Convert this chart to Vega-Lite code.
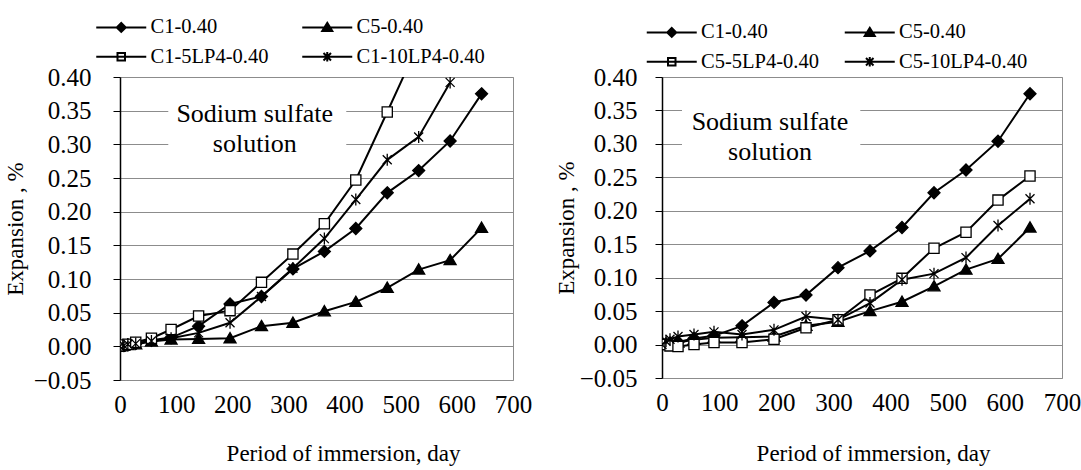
{
  "$schema": "https://vega.github.io/schema/vega-lite/v6.json",
  "background": "white",
  "padding": {"left": 3, "top": 16, "right": 3, "bottom": 2},
  "config": {
    "font": "Liberation Serif, Times New Roman, DejaVu Serif, serif",
    "view": {"stroke": "#8c8c8c", "strokeWidth": 1},
    "legend": {"labelFont": "Liberation Serif, Times New Roman, DejaVu Serif, serif"}
  },
  "datasets": {
    "left": [
      {"s": "C1-0.40", "day": 0, "exp": 0}, {"s": "C1-0.40", "day": 7, "exp": 0.001}, {"s": "C1-0.40", "day": 14, "exp": 0.002}, {"s": "C1-0.40", "day": 28, "exp": 0.004}, {"s": "C1-0.40", "day": 56, "exp": 0.009}, {"s": "C1-0.40", "day": 91, "exp": 0.013}, {"s": "C1-0.40", "day": 140, "exp": 0.03}, {"s": "C1-0.40", "day": 196, "exp": 0.063}, {"s": "C1-0.40", "day": 252, "exp": 0.074}, {"s": "C1-0.40", "day": 308, "exp": 0.115}, {"s": "C1-0.40", "day": 364, "exp": 0.141}, {"s": "C1-0.40", "day": 420, "exp": 0.175}, {"s": "C1-0.40", "day": 476, "exp": 0.228}, {"s": "C1-0.40", "day": 532, "exp": 0.261}, {"s": "C1-0.40", "day": 588, "exp": 0.305}, {"s": "C1-0.40", "day": 644, "exp": 0.375},
      {"s": "C5-0.40", "day": 0, "exp": 0}, {"s": "C5-0.40", "day": 7, "exp": 0.001}, {"s": "C5-0.40", "day": 14, "exp": 0.002}, {"s": "C5-0.40", "day": 28, "exp": 0.003}, {"s": "C5-0.40", "day": 56, "exp": 0.007}, {"s": "C5-0.40", "day": 91, "exp": 0.01}, {"s": "C5-0.40", "day": 140, "exp": 0.011}, {"s": "C5-0.40", "day": 196, "exp": 0.012}, {"s": "C5-0.40", "day": 252, "exp": 0.03}, {"s": "C5-0.40", "day": 308, "exp": 0.035}, {"s": "C5-0.40", "day": 364, "exp": 0.052}, {"s": "C5-0.40", "day": 420, "exp": 0.066}, {"s": "C5-0.40", "day": 476, "exp": 0.087}, {"s": "C5-0.40", "day": 532, "exp": 0.114}, {"s": "C5-0.40", "day": 588, "exp": 0.128}, {"s": "C5-0.40", "day": 644, "exp": 0.176},
      {"s": "C1-5LP4-0.40", "day": 0, "exp": 0}, {"s": "C1-5LP4-0.40", "day": 7, "exp": 0.002}, {"s": "C1-5LP4-0.40", "day": 14, "exp": 0.003}, {"s": "C1-5LP4-0.40", "day": 28, "exp": 0.006}, {"s": "C1-5LP4-0.40", "day": 56, "exp": 0.012}, {"s": "C1-5LP4-0.40", "day": 91, "exp": 0.025}, {"s": "C1-5LP4-0.40", "day": 140, "exp": 0.045}, {"s": "C1-5LP4-0.40", "day": 196, "exp": 0.053}, {"s": "C1-5LP4-0.40", "day": 252, "exp": 0.095}, {"s": "C1-5LP4-0.40", "day": 308, "exp": 0.137}, {"s": "C1-5LP4-0.40", "day": 364, "exp": 0.182}, {"s": "C1-5LP4-0.40", "day": 420, "exp": 0.247}, {"s": "C1-5LP4-0.40", "day": 476, "exp": 0.348}, {"s": "C1-5LP4-0.40", "day": 532, "exp": 0.45},
      {"s": "C1-10LP4-0.40", "day": 0, "exp": 0}, {"s": "C1-10LP4-0.40", "day": 7, "exp": 0.001}, {"s": "C1-10LP4-0.40", "day": 14, "exp": 0.003}, {"s": "C1-10LP4-0.40", "day": 28, "exp": 0.004}, {"s": "C1-10LP4-0.40", "day": 56, "exp": 0.008}, {"s": "C1-10LP4-0.40", "day": 91, "exp": 0.012}, {"s": "C1-10LP4-0.40", "day": 140, "exp": 0.02}, {"s": "C1-10LP4-0.40", "day": 196, "exp": 0.035}, {"s": "C1-10LP4-0.40", "day": 252, "exp": 0.074}, {"s": "C1-10LP4-0.40", "day": 308, "exp": 0.116}, {"s": "C1-10LP4-0.40", "day": 364, "exp": 0.16}, {"s": "C1-10LP4-0.40", "day": 420, "exp": 0.218}, {"s": "C1-10LP4-0.40", "day": 476, "exp": 0.277}, {"s": "C1-10LP4-0.40", "day": 532, "exp": 0.311}, {"s": "C1-10LP4-0.40", "day": 588, "exp": 0.392}
    ],
    "right": [
      {"s": "C1-0.40", "day": 0, "exp": 0}, {"s": "C1-0.40", "day": 7, "exp": 0.001}, {"s": "C1-0.40", "day": 14, "exp": 0.002}, {"s": "C1-0.40", "day": 28, "exp": 0.004}, {"s": "C1-0.40", "day": 56, "exp": 0.009}, {"s": "C1-0.40", "day": 91, "exp": 0.013}, {"s": "C1-0.40", "day": 140, "exp": 0.028}, {"s": "C1-0.40", "day": 196, "exp": 0.063}, {"s": "C1-0.40", "day": 252, "exp": 0.074}, {"s": "C1-0.40", "day": 308, "exp": 0.115}, {"s": "C1-0.40", "day": 364, "exp": 0.14}, {"s": "C1-0.40", "day": 420, "exp": 0.175}, {"s": "C1-0.40", "day": 476, "exp": 0.227}, {"s": "C1-0.40", "day": 532, "exp": 0.261}, {"s": "C1-0.40", "day": 588, "exp": 0.304}, {"s": "C1-0.40", "day": 644, "exp": 0.375},
      {"s": "C5-0.40", "day": 0, "exp": 0}, {"s": "C5-0.40", "day": 7, "exp": 0.001}, {"s": "C5-0.40", "day": 14, "exp": 0.002}, {"s": "C5-0.40", "day": 28, "exp": 0.003}, {"s": "C5-0.40", "day": 56, "exp": 0.007}, {"s": "C5-0.40", "day": 91, "exp": 0.01}, {"s": "C5-0.40", "day": 140, "exp": 0.011}, {"s": "C5-0.40", "day": 196, "exp": 0.012}, {"s": "C5-0.40", "day": 252, "exp": 0.028}, {"s": "C5-0.40", "day": 308, "exp": 0.034}, {"s": "C5-0.40", "day": 364, "exp": 0.05}, {"s": "C5-0.40", "day": 420, "exp": 0.064}, {"s": "C5-0.40", "day": 476, "exp": 0.087}, {"s": "C5-0.40", "day": 532, "exp": 0.112}, {"s": "C5-0.40", "day": 588, "exp": 0.128}, {"s": "C5-0.40", "day": 644, "exp": 0.175},
      {"s": "C5-5LP4-0.40", "day": 0, "exp": 0}, {"s": "C5-5LP4-0.40", "day": 7, "exp": 0}, {"s": "C5-5LP4-0.40", "day": 14, "exp": -0.002}, {"s": "C5-5LP4-0.40", "day": 28, "exp": -0.003}, {"s": "C5-5LP4-0.40", "day": 56, "exp": 0}, {"s": "C5-5LP4-0.40", "day": 91, "exp": 0.003}, {"s": "C5-5LP4-0.40", "day": 140, "exp": 0.003}, {"s": "C5-5LP4-0.40", "day": 196, "exp": 0.008}, {"s": "C5-5LP4-0.40", "day": 252, "exp": 0.025}, {"s": "C5-5LP4-0.40", "day": 308, "exp": 0.037}, {"s": "C5-5LP4-0.40", "day": 364, "exp": 0.074}, {"s": "C5-5LP4-0.40", "day": 420, "exp": 0.099}, {"s": "C5-5LP4-0.40", "day": 476, "exp": 0.144}, {"s": "C5-5LP4-0.40", "day": 532, "exp": 0.168}, {"s": "C5-5LP4-0.40", "day": 588, "exp": 0.216}, {"s": "C5-5LP4-0.40", "day": 644, "exp": 0.252},
      {"s": "C5-10LP4-0.40", "day": 0, "exp": 0}, {"s": "C5-10LP4-0.40", "day": 7, "exp": 0.005}, {"s": "C5-10LP4-0.40", "day": 14, "exp": 0.008}, {"s": "C5-10LP4-0.40", "day": 28, "exp": 0.012}, {"s": "C5-10LP4-0.40", "day": 56, "exp": 0.015}, {"s": "C5-10LP4-0.40", "day": 91, "exp": 0.019}, {"s": "C5-10LP4-0.40", "day": 140, "exp": 0.015}, {"s": "C5-10LP4-0.40", "day": 196, "exp": 0.022}, {"s": "C5-10LP4-0.40", "day": 252, "exp": 0.042}, {"s": "C5-10LP4-0.40", "day": 308, "exp": 0.037}, {"s": "C5-10LP4-0.40", "day": 364, "exp": 0.062}, {"s": "C5-10LP4-0.40", "day": 420, "exp": 0.097}, {"s": "C5-10LP4-0.40", "day": 476, "exp": 0.106}, {"s": "C5-10LP4-0.40", "day": 532, "exp": 0.13}, {"s": "C5-10LP4-0.40", "day": 588, "exp": 0.178}, {"s": "C5-10LP4-0.40", "day": 644, "exp": 0.218}
    ]
  },
  "spacing": 21,
  "resolve": {"scale": {"shape": "independent", "fill": "independent", "stroke": "independent", "x": "independent", "y": "independent"}, "legend": {"shape": "independent", "fill": "independent", "stroke": "independent"}},
  "hconcat": [
    {
      "width": 393, "height": 303,
      "layer": [
        {
          "data": {"values": [{"box": "annotation"}]},
          "mark": {"type": "rect", "fill": "white"},
          "encoding": {
            "x": {"datum": 86, "type": "quantitative", "scale": {"domain": [0, 700], "nice": false}, "axis": {"title": "Period of immersion, day", "values": [0, 100, 200, 300, 400, 500, 600, 700], "grid": false, "ticks": false, "domain": false, "labelFlush": false, "labelOverlap": false, "labelFont": "Liberation Serif, Times New Roman, DejaVu Serif, serif", "titleFont": "Liberation Serif, Times New Roman, DejaVu Serif, serif", "labelColor": "black", "titleColor": "black", "titleFontWeight": "normal", "labelFontSize": 25, "labelPadding": 12, "titleFontSize": 23, "titlePadding": 25, "titleX": 223}},
            "x2": {"datum": 403},
            "y": {"datum": 0.275, "type": "quantitative", "scale": {"domain": [-0.05, 0.4], "nice": false, "zero": false}, "axis": {"title": "Expansion , %", "values": [-0.05, 0, 0.05, 0.1, 0.15, 0.2, 0.25, 0.3, 0.35, 0.4], "format": ".2f", "grid": true, "gridColor": "#8c8c8c", "domainColor": "black", "domainWidth": 1.5, "tickColor": "black", "tickSize": 7, "labelFlush": false, "labelOverlap": false, "labelFont": "Liberation Serif, Times New Roman, DejaVu Serif, serif", "titleFont": "Liberation Serif, Times New Roman, DejaVu Serif, serif", "labelColor": "black", "titleColor": "black", "titleFontWeight": "normal", "labelFontSize": 25, "labelPadding": 22, "titleFontSize": 23, "titlePadding": 6}},
            "y2": {"datum": 0.37}
          }
        },
        {
          "data": {"values": [{"label": "annotation"}]},
          "mark": {"type": "text", "text": ["Sodium sulfate", "solution"], "font": "Liberation Serif, Times New Roman, DejaVu Serif, serif", "fontSize": 26, "lineHeight": 30, "align": "center", "baseline": "middle", "color": "black"},
          "encoding": {
            "x": {"datum": 240, "type": "quantitative", "scale": {"domain": [0, 700], "nice": false}, "axis": {"title": "Period of immersion, day", "values": [0, 100, 200, 300, 400, 500, 600, 700], "grid": false, "ticks": false, "domain": false, "labelFlush": false, "labelOverlap": false, "labelFont": "Liberation Serif, Times New Roman, DejaVu Serif, serif", "titleFont": "Liberation Serif, Times New Roman, DejaVu Serif, serif", "labelColor": "black", "titleColor": "black", "titleFontWeight": "normal", "labelFontSize": 25, "labelPadding": 12, "titleFontSize": 23, "titlePadding": 25, "titleX": 223}},
            "y": {"datum": 0.345, "type": "quantitative", "scale": {"domain": [-0.05, 0.4], "nice": false, "zero": false}, "axis": {"title": "Expansion , %", "values": [-0.05, 0, 0.05, 0.1, 0.15, 0.2, 0.25, 0.3, 0.35, 0.4], "format": ".2f", "grid": true, "gridColor": "#8c8c8c", "domainColor": "black", "domainWidth": 1.5, "tickColor": "black", "tickSize": 7, "labelFlush": false, "labelOverlap": false, "labelFont": "Liberation Serif, Times New Roman, DejaVu Serif, serif", "titleFont": "Liberation Serif, Times New Roman, DejaVu Serif, serif", "labelColor": "black", "titleColor": "black", "titleFontWeight": "normal", "labelFontSize": 25, "labelPadding": 22, "titleFontSize": 23, "titlePadding": 6}}
          }
        },
        {
          "data": {"name": "left"},
          "mark": {"type": "line", "color": "black", "strokeWidth": 2, "clip": true},
          "encoding": {
            "x": {"field": "day", "type": "quantitative", "scale": {"domain": [0, 700], "nice": false}, "axis": {"title": "Period of immersion, day", "values": [0, 100, 200, 300, 400, 500, 600, 700], "grid": false, "ticks": false, "domain": false, "labelFlush": false, "labelOverlap": false, "labelFont": "Liberation Serif, Times New Roman, DejaVu Serif, serif", "titleFont": "Liberation Serif, Times New Roman, DejaVu Serif, serif", "labelColor": "black", "titleColor": "black", "titleFontWeight": "normal", "labelFontSize": 25, "labelPadding": 12, "titleFontSize": 23, "titlePadding": 25, "titleX": 223}},
            "y": {"field": "exp", "type": "quantitative", "scale": {"domain": [-0.05, 0.4], "nice": false, "zero": false}, "axis": {"title": "Expansion , %", "values": [-0.05, 0, 0.05, 0.1, 0.15, 0.2, 0.25, 0.3, 0.35, 0.4], "format": ".2f", "grid": true, "gridColor": "#8c8c8c", "domainColor": "black", "domainWidth": 1.5, "tickColor": "black", "tickSize": 7, "labelFlush": false, "labelOverlap": false, "labelFont": "Liberation Serif, Times New Roman, DejaVu Serif, serif", "titleFont": "Liberation Serif, Times New Roman, DejaVu Serif, serif", "labelColor": "black", "titleColor": "black", "titleFontWeight": "normal", "labelFontSize": 25, "labelPadding": 22, "titleFontSize": 23, "titlePadding": 6}},
            "detail": {"field": "s"}
          }
        },
        {
          "data": {"name": "left"},
          "transform": [{"filter": {"field": "s", "equal": "C1-0.40"}}],
          "mark": {"type": "point", "shape": "M0,-1L1,0L0,1L-1,0Z", "filled": true, "fill": "black", "stroke": "black", "strokeWidth": 1.3, "size": 144, "opacity": 1, "clip": true},
          "encoding": {
            "x": {"field": "day", "type": "quantitative", "scale": {"domain": [0, 700], "nice": false}, "axis": {"title": "Period of immersion, day", "values": [0, 100, 200, 300, 400, 500, 600, 700], "grid": false, "ticks": false, "domain": false, "labelFlush": false, "labelOverlap": false, "labelFont": "Liberation Serif, Times New Roman, DejaVu Serif, serif", "titleFont": "Liberation Serif, Times New Roman, DejaVu Serif, serif", "labelColor": "black", "titleColor": "black", "titleFontWeight": "normal", "labelFontSize": 25, "labelPadding": 12, "titleFontSize": 23, "titlePadding": 25, "titleX": 223}},
            "y": {"field": "exp", "type": "quantitative", "scale": {"domain": [-0.05, 0.4], "nice": false, "zero": false}, "axis": {"title": "Expansion , %", "values": [-0.05, 0, 0.05, 0.1, 0.15, 0.2, 0.25, 0.3, 0.35, 0.4], "format": ".2f", "grid": true, "gridColor": "#8c8c8c", "domainColor": "black", "domainWidth": 1.5, "tickColor": "black", "tickSize": 7, "labelFlush": false, "labelOverlap": false, "labelFont": "Liberation Serif, Times New Roman, DejaVu Serif, serif", "titleFont": "Liberation Serif, Times New Roman, DejaVu Serif, serif", "labelColor": "black", "titleColor": "black", "titleFontWeight": "normal", "labelFontSize": 25, "labelPadding": 22, "titleFontSize": 23, "titlePadding": 6}}
          }
        },
        {
          "data": {"name": "left"},
          "transform": [{"filter": {"field": "s", "equal": "C5-0.40"}}],
          "mark": {"type": "point", "shape": "M0,-0.95L1,0.75L-1,0.75Z", "filled": true, "fill": "black", "stroke": "black", "strokeWidth": 1.3, "size": 144, "opacity": 1, "clip": true},
          "encoding": {
            "x": {"field": "day", "type": "quantitative", "scale": {"domain": [0, 700], "nice": false}, "axis": {"title": "Period of immersion, day", "values": [0, 100, 200, 300, 400, 500, 600, 700], "grid": false, "ticks": false, "domain": false, "labelFlush": false, "labelOverlap": false, "labelFont": "Liberation Serif, Times New Roman, DejaVu Serif, serif", "titleFont": "Liberation Serif, Times New Roman, DejaVu Serif, serif", "labelColor": "black", "titleColor": "black", "titleFontWeight": "normal", "labelFontSize": 25, "labelPadding": 12, "titleFontSize": 23, "titlePadding": 25, "titleX": 223}},
            "y": {"field": "exp", "type": "quantitative", "scale": {"domain": [-0.05, 0.4], "nice": false, "zero": false}, "axis": {"title": "Expansion , %", "values": [-0.05, 0, 0.05, 0.1, 0.15, 0.2, 0.25, 0.3, 0.35, 0.4], "format": ".2f", "grid": true, "gridColor": "#8c8c8c", "domainColor": "black", "domainWidth": 1.5, "tickColor": "black", "tickSize": 7, "labelFlush": false, "labelOverlap": false, "labelFont": "Liberation Serif, Times New Roman, DejaVu Serif, serif", "titleFont": "Liberation Serif, Times New Roman, DejaVu Serif, serif", "labelColor": "black", "titleColor": "black", "titleFontWeight": "normal", "labelFontSize": 25, "labelPadding": 22, "titleFontSize": 23, "titlePadding": 6}}
          }
        },
        {
          "data": {"name": "left"},
          "transform": [{"filter": {"field": "s", "equal": "C1-5LP4-0.40"}}],
          "mark": {"type": "point", "shape": "M-0.85,-0.85H0.85V0.85H-0.85Z", "filled": true, "fill": "white", "stroke": "black", "strokeWidth": 1.3, "size": 144, "opacity": 1, "clip": true},
          "encoding": {
            "x": {"field": "day", "type": "quantitative", "scale": {"domain": [0, 700], "nice": false}, "axis": {"title": "Period of immersion, day", "values": [0, 100, 200, 300, 400, 500, 600, 700], "grid": false, "ticks": false, "domain": false, "labelFlush": false, "labelOverlap": false, "labelFont": "Liberation Serif, Times New Roman, DejaVu Serif, serif", "titleFont": "Liberation Serif, Times New Roman, DejaVu Serif, serif", "labelColor": "black", "titleColor": "black", "titleFontWeight": "normal", "labelFontSize": 25, "labelPadding": 12, "titleFontSize": 23, "titlePadding": 25, "titleX": 223}},
            "y": {"field": "exp", "type": "quantitative", "scale": {"domain": [-0.05, 0.4], "nice": false, "zero": false}, "axis": {"title": "Expansion , %", "values": [-0.05, 0, 0.05, 0.1, 0.15, 0.2, 0.25, 0.3, 0.35, 0.4], "format": ".2f", "grid": true, "gridColor": "#8c8c8c", "domainColor": "black", "domainWidth": 1.5, "tickColor": "black", "tickSize": 7, "labelFlush": false, "labelOverlap": false, "labelFont": "Liberation Serif, Times New Roman, DejaVu Serif, serif", "titleFont": "Liberation Serif, Times New Roman, DejaVu Serif, serif", "labelColor": "black", "titleColor": "black", "titleFontWeight": "normal", "labelFontSize": 25, "labelPadding": 22, "titleFontSize": 23, "titlePadding": 6}}
          }
        },
        {
          "data": {"name": "left"},
          "transform": [{"filter": {"field": "s", "equal": "C1-10LP4-0.40"}}],
          "mark": {"type": "point", "shape": "M-0.75,-0.75L0.75,0.75M0.75,-0.75L-0.75,0.75M0,-1V1", "filled": false, "stroke": "black", "strokeWidth": 1.3, "size": 144, "opacity": 1, "clip": true},
          "encoding": {
            "x": {"field": "day", "type": "quantitative", "scale": {"domain": [0, 700], "nice": false}, "axis": {"title": "Period of immersion, day", "values": [0, 100, 200, 300, 400, 500, 600, 700], "grid": false, "ticks": false, "domain": false, "labelFlush": false, "labelOverlap": false, "labelFont": "Liberation Serif, Times New Roman, DejaVu Serif, serif", "titleFont": "Liberation Serif, Times New Roman, DejaVu Serif, serif", "labelColor": "black", "titleColor": "black", "titleFontWeight": "normal", "labelFontSize": 25, "labelPadding": 12, "titleFontSize": 23, "titlePadding": 25, "titleX": 223}},
            "y": {"field": "exp", "type": "quantitative", "scale": {"domain": [-0.05, 0.4], "nice": false, "zero": false}, "axis": {"title": "Expansion , %", "values": [-0.05, 0, 0.05, 0.1, 0.15, 0.2, 0.25, 0.3, 0.35, 0.4], "format": ".2f", "grid": true, "gridColor": "#8c8c8c", "domainColor": "black", "domainWidth": 1.5, "tickColor": "black", "tickSize": 7, "labelFlush": false, "labelOverlap": false, "labelFont": "Liberation Serif, Times New Roman, DejaVu Serif, serif", "titleFont": "Liberation Serif, Times New Roman, DejaVu Serif, serif", "labelColor": "black", "titleColor": "black", "titleFontWeight": "normal", "labelFontSize": 25, "labelPadding": 22, "titleFontSize": 23, "titlePadding": 6}}
          }
        },
        {
          "data": {"name": "left"},
          "transform": [{"filter": "datum.day < 0"}],
          "mark": {"type": "point", "filled": true, "strokeWidth": 2, "opacity": 1},
          "encoding": {
            "x": {"field": "day", "type": "quantitative", "scale": {"domain": [0, 700], "nice": false}, "axis": {"title": "Period of immersion, day", "values": [0, 100, 200, 300, 400, 500, 600, 700], "grid": false, "ticks": false, "domain": false, "labelFlush": false, "labelOverlap": false, "labelFont": "Liberation Serif, Times New Roman, DejaVu Serif, serif", "titleFont": "Liberation Serif, Times New Roman, DejaVu Serif, serif", "labelColor": "black", "titleColor": "black", "titleFontWeight": "normal", "labelFontSize": 25, "labelPadding": 12, "titleFontSize": 23, "titlePadding": 25, "titleX": 223}},
            "y": {"field": "exp", "type": "quantitative", "scale": {"domain": [-0.05, 0.4], "nice": false, "zero": false}, "axis": {"title": "Expansion , %", "values": [-0.05, 0, 0.05, 0.1, 0.15, 0.2, 0.25, 0.3, 0.35, 0.4], "format": ".2f", "grid": true, "gridColor": "#8c8c8c", "domainColor": "black", "domainWidth": 1.5, "tickColor": "black", "tickSize": 7, "labelFlush": false, "labelOverlap": false, "labelFont": "Liberation Serif, Times New Roman, DejaVu Serif, serif", "titleFont": "Liberation Serif, Times New Roman, DejaVu Serif, serif", "labelColor": "black", "titleColor": "black", "titleFontWeight": "normal", "labelFontSize": 25, "labelPadding": 22, "titleFontSize": 23, "titlePadding": 6}},
            "shape": {"field": "s", "type": "nominal",
              "scale": {"domain": ["C1-0.40", "C5-0.40", "C1-5LP4-0.40", "C1-10LP4-0.40"], "range": ["M-5,0H5M0,-0.9L0.9,0L0,0.9L-0.9,0Z", "M-5,0H5M0,-0.9L1,0.7L-1,0.7Z", "M-5,0H5M-0.75,-0.75H0.75V0.75H-0.75Z", "M-5,0H5M-0.75,-0.75L0.75,0.75M0.75,-0.75L-0.75,0.75M0,-0.95V0.95"]},
              "legend": {"orient": "none", "direction": "horizontal", "legendX": -9, "legendY": -60, "columns": 2, "title": null, "symbolSize": 100, "symbolStrokeWidth": 2, "symbolOpacity": 1, "labelOffset": 19, "columnPadding": 29, "rowPadding": 8.5, "labelFontSize": 20.5, "labelColor": "black"}},
            "fill": {"field": "s", "type": "nominal",
              "scale": {"domain": ["C1-0.40", "C5-0.40", "C1-5LP4-0.40", "C1-10LP4-0.40"], "range": ["black", "black", "white", "white"]},
              "legend": {"orient": "none", "direction": "horizontal", "legendX": -9, "legendY": -60, "columns": 2, "title": null, "symbolSize": 100, "symbolStrokeWidth": 2, "symbolOpacity": 1, "labelOffset": 19, "columnPadding": 29, "rowPadding": 8.5, "labelFontSize": 20.5, "labelColor": "black"}},
            "stroke": {"field": "s", "type": "nominal",
              "scale": {"domain": ["C1-0.40", "C5-0.40", "C1-5LP4-0.40", "C1-10LP4-0.40"], "range": ["black", "black", "black", "black"]},
              "legend": {"orient": "none", "direction": "horizontal", "legendX": -9, "legendY": -60, "columns": 2, "title": null, "symbolSize": 100, "symbolStrokeWidth": 2, "symbolOpacity": 1, "labelOffset": 19, "columnPadding": 29, "rowPadding": 8.5, "labelFontSize": 20.5, "labelColor": "black"}}
          }
        }
      ]
    },
    {
      "width": 400, "height": 301,
      "layer": [
        {
          "data": {"values": [{"box": "annotation"}]},
          "mark": {"type": "rect", "fill": "white"},
          "encoding": {
            "x": {"datum": 35, "type": "quantitative", "scale": {"domain": [0, 700], "nice": false}, "axis": {"title": "Period of immersion, day", "values": [0, 100, 200, 300, 400, 500, 600, 700], "grid": false, "ticks": false, "domain": false, "labelFlush": false, "labelOverlap": false, "labelFont": "Liberation Serif, Times New Roman, DejaVu Serif, serif", "titleFont": "Liberation Serif, Times New Roman, DejaVu Serif, serif", "labelColor": "black", "titleColor": "black", "titleFontWeight": "normal", "labelFontSize": 25, "labelPadding": 12, "titleFontSize": 23, "titlePadding": 27, "titleX": 211}},
            "x2": {"datum": 347},
            "y": {"datum": 0.27, "type": "quantitative", "scale": {"domain": [-0.05, 0.4], "nice": false, "zero": false}, "axis": {"title": "Expansion , %", "values": [-0.05, 0, 0.05, 0.1, 0.15, 0.2, 0.25, 0.3, 0.35, 0.4], "format": ".2f", "grid": true, "gridColor": "#8c8c8c", "domainColor": "black", "domainWidth": 1.5, "tickColor": "black", "tickSize": 7, "labelFlush": false, "labelOverlap": false, "labelFont": "Liberation Serif, Times New Roman, DejaVu Serif, serif", "titleFont": "Liberation Serif, Times New Roman, DejaVu Serif, serif", "labelColor": "black", "titleColor": "black", "titleFontWeight": "normal", "labelFontSize": 25, "labelPadding": 18, "titleFontSize": 23, "titlePadding": 1}},
            "y2": {"datum": 0.37}
          }
        },
        {
          "data": {"values": [{"label": "annotation"}]},
          "mark": {"type": "text", "text": ["Sodium sulfate", "solution"], "font": "Liberation Serif, Times New Roman, DejaVu Serif, serif", "fontSize": 26, "lineHeight": 30, "align": "center", "baseline": "middle", "color": "black"},
          "encoding": {
            "x": {"datum": 189, "type": "quantitative", "scale": {"domain": [0, 700], "nice": false}, "axis": {"title": "Period of immersion, day", "values": [0, 100, 200, 300, 400, 500, 600, 700], "grid": false, "ticks": false, "domain": false, "labelFlush": false, "labelOverlap": false, "labelFont": "Liberation Serif, Times New Roman, DejaVu Serif, serif", "titleFont": "Liberation Serif, Times New Roman, DejaVu Serif, serif", "labelColor": "black", "titleColor": "black", "titleFontWeight": "normal", "labelFontSize": 25, "labelPadding": 12, "titleFontSize": 23, "titlePadding": 27, "titleX": 211}},
            "y": {"datum": 0.333, "type": "quantitative", "scale": {"domain": [-0.05, 0.4], "nice": false, "zero": false}, "axis": {"title": "Expansion , %", "values": [-0.05, 0, 0.05, 0.1, 0.15, 0.2, 0.25, 0.3, 0.35, 0.4], "format": ".2f", "grid": true, "gridColor": "#8c8c8c", "domainColor": "black", "domainWidth": 1.5, "tickColor": "black", "tickSize": 7, "labelFlush": false, "labelOverlap": false, "labelFont": "Liberation Serif, Times New Roman, DejaVu Serif, serif", "titleFont": "Liberation Serif, Times New Roman, DejaVu Serif, serif", "labelColor": "black", "titleColor": "black", "titleFontWeight": "normal", "labelFontSize": 25, "labelPadding": 18, "titleFontSize": 23, "titlePadding": 1}}
          }
        },
        {
          "data": {"name": "right"},
          "mark": {"type": "line", "color": "black", "strokeWidth": 2, "clip": true},
          "encoding": {
            "x": {"field": "day", "type": "quantitative", "scale": {"domain": [0, 700], "nice": false}, "axis": {"title": "Period of immersion, day", "values": [0, 100, 200, 300, 400, 500, 600, 700], "grid": false, "ticks": false, "domain": false, "labelFlush": false, "labelOverlap": false, "labelFont": "Liberation Serif, Times New Roman, DejaVu Serif, serif", "titleFont": "Liberation Serif, Times New Roman, DejaVu Serif, serif", "labelColor": "black", "titleColor": "black", "titleFontWeight": "normal", "labelFontSize": 25, "labelPadding": 12, "titleFontSize": 23, "titlePadding": 27, "titleX": 211}},
            "y": {"field": "exp", "type": "quantitative", "scale": {"domain": [-0.05, 0.4], "nice": false, "zero": false}, "axis": {"title": "Expansion , %", "values": [-0.05, 0, 0.05, 0.1, 0.15, 0.2, 0.25, 0.3, 0.35, 0.4], "format": ".2f", "grid": true, "gridColor": "#8c8c8c", "domainColor": "black", "domainWidth": 1.5, "tickColor": "black", "tickSize": 7, "labelFlush": false, "labelOverlap": false, "labelFont": "Liberation Serif, Times New Roman, DejaVu Serif, serif", "titleFont": "Liberation Serif, Times New Roman, DejaVu Serif, serif", "labelColor": "black", "titleColor": "black", "titleFontWeight": "normal", "labelFontSize": 25, "labelPadding": 18, "titleFontSize": 23, "titlePadding": 1}},
            "detail": {"field": "s"}
          }
        },
        {
          "data": {"name": "right"},
          "transform": [{"filter": {"field": "s", "equal": "C1-0.40"}}],
          "mark": {"type": "point", "shape": "M0,-1L1,0L0,1L-1,0Z", "filled": true, "fill": "black", "stroke": "black", "strokeWidth": 1.3, "size": 144, "opacity": 1, "clip": true},
          "encoding": {
            "x": {"field": "day", "type": "quantitative", "scale": {"domain": [0, 700], "nice": false}, "axis": {"title": "Period of immersion, day", "values": [0, 100, 200, 300, 400, 500, 600, 700], "grid": false, "ticks": false, "domain": false, "labelFlush": false, "labelOverlap": false, "labelFont": "Liberation Serif, Times New Roman, DejaVu Serif, serif", "titleFont": "Liberation Serif, Times New Roman, DejaVu Serif, serif", "labelColor": "black", "titleColor": "black", "titleFontWeight": "normal", "labelFontSize": 25, "labelPadding": 12, "titleFontSize": 23, "titlePadding": 27, "titleX": 211}},
            "y": {"field": "exp", "type": "quantitative", "scale": {"domain": [-0.05, 0.4], "nice": false, "zero": false}, "axis": {"title": "Expansion , %", "values": [-0.05, 0, 0.05, 0.1, 0.15, 0.2, 0.25, 0.3, 0.35, 0.4], "format": ".2f", "grid": true, "gridColor": "#8c8c8c", "domainColor": "black", "domainWidth": 1.5, "tickColor": "black", "tickSize": 7, "labelFlush": false, "labelOverlap": false, "labelFont": "Liberation Serif, Times New Roman, DejaVu Serif, serif", "titleFont": "Liberation Serif, Times New Roman, DejaVu Serif, serif", "labelColor": "black", "titleColor": "black", "titleFontWeight": "normal", "labelFontSize": 25, "labelPadding": 18, "titleFontSize": 23, "titlePadding": 1}}
          }
        },
        {
          "data": {"name": "right"},
          "transform": [{"filter": {"field": "s", "equal": "C5-0.40"}}],
          "mark": {"type": "point", "shape": "M0,-0.95L1,0.75L-1,0.75Z", "filled": true, "fill": "black", "stroke": "black", "strokeWidth": 1.3, "size": 144, "opacity": 1, "clip": true},
          "encoding": {
            "x": {"field": "day", "type": "quantitative", "scale": {"domain": [0, 700], "nice": false}, "axis": {"title": "Period of immersion, day", "values": [0, 100, 200, 300, 400, 500, 600, 700], "grid": false, "ticks": false, "domain": false, "labelFlush": false, "labelOverlap": false, "labelFont": "Liberation Serif, Times New Roman, DejaVu Serif, serif", "titleFont": "Liberation Serif, Times New Roman, DejaVu Serif, serif", "labelColor": "black", "titleColor": "black", "titleFontWeight": "normal", "labelFontSize": 25, "labelPadding": 12, "titleFontSize": 23, "titlePadding": 27, "titleX": 211}},
            "y": {"field": "exp", "type": "quantitative", "scale": {"domain": [-0.05, 0.4], "nice": false, "zero": false}, "axis": {"title": "Expansion , %", "values": [-0.05, 0, 0.05, 0.1, 0.15, 0.2, 0.25, 0.3, 0.35, 0.4], "format": ".2f", "grid": true, "gridColor": "#8c8c8c", "domainColor": "black", "domainWidth": 1.5, "tickColor": "black", "tickSize": 7, "labelFlush": false, "labelOverlap": false, "labelFont": "Liberation Serif, Times New Roman, DejaVu Serif, serif", "titleFont": "Liberation Serif, Times New Roman, DejaVu Serif, serif", "labelColor": "black", "titleColor": "black", "titleFontWeight": "normal", "labelFontSize": 25, "labelPadding": 18, "titleFontSize": 23, "titlePadding": 1}}
          }
        },
        {
          "data": {"name": "right"},
          "transform": [{"filter": {"field": "s", "equal": "C5-5LP4-0.40"}}],
          "mark": {"type": "point", "shape": "M-0.85,-0.85H0.85V0.85H-0.85Z", "filled": true, "fill": "white", "stroke": "black", "strokeWidth": 1.3, "size": 144, "opacity": 1, "clip": true},
          "encoding": {
            "x": {"field": "day", "type": "quantitative", "scale": {"domain": [0, 700], "nice": false}, "axis": {"title": "Period of immersion, day", "values": [0, 100, 200, 300, 400, 500, 600, 700], "grid": false, "ticks": false, "domain": false, "labelFlush": false, "labelOverlap": false, "labelFont": "Liberation Serif, Times New Roman, DejaVu Serif, serif", "titleFont": "Liberation Serif, Times New Roman, DejaVu Serif, serif", "labelColor": "black", "titleColor": "black", "titleFontWeight": "normal", "labelFontSize": 25, "labelPadding": 12, "titleFontSize": 23, "titlePadding": 27, "titleX": 211}},
            "y": {"field": "exp", "type": "quantitative", "scale": {"domain": [-0.05, 0.4], "nice": false, "zero": false}, "axis": {"title": "Expansion , %", "values": [-0.05, 0, 0.05, 0.1, 0.15, 0.2, 0.25, 0.3, 0.35, 0.4], "format": ".2f", "grid": true, "gridColor": "#8c8c8c", "domainColor": "black", "domainWidth": 1.5, "tickColor": "black", "tickSize": 7, "labelFlush": false, "labelOverlap": false, "labelFont": "Liberation Serif, Times New Roman, DejaVu Serif, serif", "titleFont": "Liberation Serif, Times New Roman, DejaVu Serif, serif", "labelColor": "black", "titleColor": "black", "titleFontWeight": "normal", "labelFontSize": 25, "labelPadding": 18, "titleFontSize": 23, "titlePadding": 1}}
          }
        },
        {
          "data": {"name": "right"},
          "transform": [{"filter": {"field": "s", "equal": "C5-10LP4-0.40"}}],
          "mark": {"type": "point", "shape": "M-0.75,-0.75L0.75,0.75M0.75,-0.75L-0.75,0.75M0,-1V1", "filled": false, "stroke": "black", "strokeWidth": 1.3, "size": 144, "opacity": 1, "clip": true},
          "encoding": {
            "x": {"field": "day", "type": "quantitative", "scale": {"domain": [0, 700], "nice": false}, "axis": {"title": "Period of immersion, day", "values": [0, 100, 200, 300, 400, 500, 600, 700], "grid": false, "ticks": false, "domain": false, "labelFlush": false, "labelOverlap": false, "labelFont": "Liberation Serif, Times New Roman, DejaVu Serif, serif", "titleFont": "Liberation Serif, Times New Roman, DejaVu Serif, serif", "labelColor": "black", "titleColor": "black", "titleFontWeight": "normal", "labelFontSize": 25, "labelPadding": 12, "titleFontSize": 23, "titlePadding": 27, "titleX": 211}},
            "y": {"field": "exp", "type": "quantitative", "scale": {"domain": [-0.05, 0.4], "nice": false, "zero": false}, "axis": {"title": "Expansion , %", "values": [-0.05, 0, 0.05, 0.1, 0.15, 0.2, 0.25, 0.3, 0.35, 0.4], "format": ".2f", "grid": true, "gridColor": "#8c8c8c", "domainColor": "black", "domainWidth": 1.5, "tickColor": "black", "tickSize": 7, "labelFlush": false, "labelOverlap": false, "labelFont": "Liberation Serif, Times New Roman, DejaVu Serif, serif", "titleFont": "Liberation Serif, Times New Roman, DejaVu Serif, serif", "labelColor": "black", "titleColor": "black", "titleFontWeight": "normal", "labelFontSize": 25, "labelPadding": 18, "titleFontSize": 23, "titlePadding": 1}}
          }
        },
        {
          "data": {"name": "right"},
          "transform": [{"filter": "datum.day < 0"}],
          "mark": {"type": "point", "filled": true, "strokeWidth": 2, "opacity": 1},
          "encoding": {
            "x": {"field": "day", "type": "quantitative", "scale": {"domain": [0, 700], "nice": false}, "axis": {"title": "Period of immersion, day", "values": [0, 100, 200, 300, 400, 500, 600, 700], "grid": false, "ticks": false, "domain": false, "labelFlush": false, "labelOverlap": false, "labelFont": "Liberation Serif, Times New Roman, DejaVu Serif, serif", "titleFont": "Liberation Serif, Times New Roman, DejaVu Serif, serif", "labelColor": "black", "titleColor": "black", "titleFontWeight": "normal", "labelFontSize": 25, "labelPadding": 12, "titleFontSize": 23, "titlePadding": 27, "titleX": 211}},
            "y": {"field": "exp", "type": "quantitative", "scale": {"domain": [-0.05, 0.4], "nice": false, "zero": false}, "axis": {"title": "Expansion , %", "values": [-0.05, 0, 0.05, 0.1, 0.15, 0.2, 0.25, 0.3, 0.35, 0.4], "format": ".2f", "grid": true, "gridColor": "#8c8c8c", "domainColor": "black", "domainWidth": 1.5, "tickColor": "black", "tickSize": 7, "labelFlush": false, "labelOverlap": false, "labelFont": "Liberation Serif, Times New Roman, DejaVu Serif, serif", "titleFont": "Liberation Serif, Times New Roman, DejaVu Serif, serif", "labelColor": "black", "titleColor": "black", "titleFontWeight": "normal", "labelFontSize": 25, "labelPadding": 18, "titleFontSize": 23, "titlePadding": 1}},
            "shape": {"field": "s", "type": "nominal",
              "scale": {"domain": ["C1-0.40", "C5-0.40", "C5-5LP4-0.40", "C5-10LP4-0.40"], "range": ["M-5,0H5M0,-0.9L0.9,0L0,0.9L-0.9,0Z", "M-5,0H5M0,-0.9L1,0.7L-1,0.7Z", "M-5,0H5M-0.75,-0.75H0.75V0.75H-0.75Z", "M-5,0H5M-0.75,-0.75L0.75,0.75M0.75,-0.75L-0.75,0.75M0,-0.95V0.95"]},
              "legend": {"orient": "none", "direction": "horizontal", "legendX": -0.5, "legendY": -55, "columns": 2, "title": null, "symbolSize": 100, "symbolStrokeWidth": 2, "symbolOpacity": 1, "labelOffset": 19, "columnPadding": 21, "rowPadding": 8.5, "labelFontSize": 20.5, "labelColor": "black"}},
            "fill": {"field": "s", "type": "nominal",
              "scale": {"domain": ["C1-0.40", "C5-0.40", "C5-5LP4-0.40", "C5-10LP4-0.40"], "range": ["black", "black", "white", "white"]},
              "legend": {"orient": "none", "direction": "horizontal", "legendX": -0.5, "legendY": -55, "columns": 2, "title": null, "symbolSize": 100, "symbolStrokeWidth": 2, "symbolOpacity": 1, "labelOffset": 19, "columnPadding": 21, "rowPadding": 8.5, "labelFontSize": 20.5, "labelColor": "black"}},
            "stroke": {"field": "s", "type": "nominal",
              "scale": {"domain": ["C1-0.40", "C5-0.40", "C5-5LP4-0.40", "C5-10LP4-0.40"], "range": ["black", "black", "black", "black"]},
              "legend": {"orient": "none", "direction": "horizontal", "legendX": -0.5, "legendY": -55, "columns": 2, "title": null, "symbolSize": 100, "symbolStrokeWidth": 2, "symbolOpacity": 1, "labelOffset": 19, "columnPadding": 21, "rowPadding": 8.5, "labelFontSize": 20.5, "labelColor": "black"}}
          }
        }
      ]
    }
  ]
}
